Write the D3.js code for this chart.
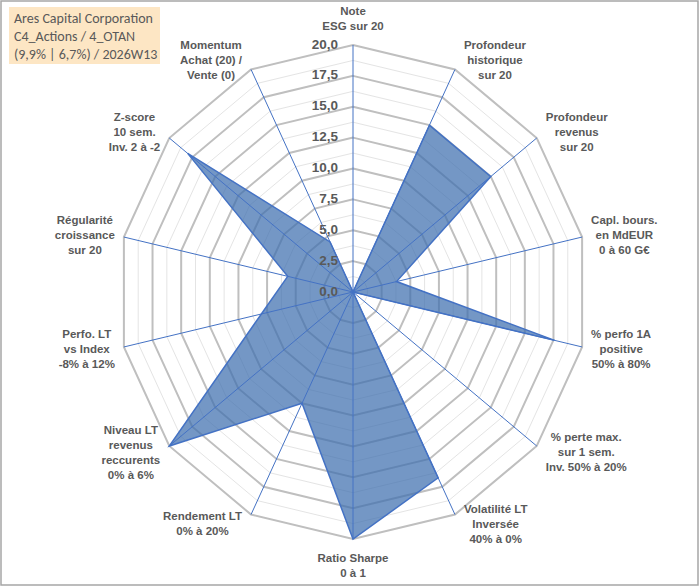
<!DOCTYPE html>
<html>
<head>
<meta charset="utf-8">
<script src="https://cdn.jsdelivr.net/npm/d3@7"></script>
<style>
  html, body { margin: 0; padding: 0; background: #ffffff; }
  svg { display: block; }
</style>
</head>
<body>
<svg id="chart" width="700" height="587"></svg>
<script>
// ---- Data ----
const titleLines = ["Ares Capital Corporation", "C4_Actions / 4_OTAN", "(9,9% | 6,7%) / 2026W13"];
const categories = [
  "Note\nESG sur 20",
  "Profondeur\nhistorique\nsur 20",
  "Profondeur\nrevenus\nsur 20",
  "Capl. bours.\nen MdEUR\n0 à 60 G€",
  "% perfo 1A\npositive\n50% à 80%",
  "% perte max.\nsur 1 sem.\nInv. 50% à 20%",
  "Volatilité LT\nInversée\n40% à 0%",
  "Ratio Sharpe\n0 à 1",
  "Rendement LT\n0% à 20%",
  "Niveau LT\nrevenus\nreccurents\n0% à 6%",
  "Perfo. LT\nvs Index\n-8% à 12%",
  "Régularité\ncroissance\nsur 20",
  "Z-score\n10 sem.\nInv. 2 à -2",
  "Momentum\nAchat (20) /\nVente (0)"
];
const values = [0, 15, 15, 3.8, 17.6, 0, 16.7, 20, 10, 20, 8, 5.7, 18, 4.5];
const tickValues = [0, 2.5, 5, 7.5, 10, 12.5, 15, 17.5, 20];
const minorValues = [1.25, 3.75, 6.25, 8.75, 11.25, 13.75, 16.25, 18.75];

// ---- Layout ----
const W = 700, H = 587;
const cx = 353, cy = 292, rx = 235, ry = 247;
const svg = d3.select("#chart");
const n = categories.length;
const r = d3.scaleLinear().domain([0, 20]).range([0, 1]);
const ang = d3.scaleLinear().domain([0, n]).range([0, 2 * Math.PI]);
const px = (i, v) => cx + rx * r(v) * Math.sin(ang(i));
const py = (i, v) => cy - ry * r(v) * Math.cos(ang(i));
const fmt = v => d3.format(".1f")(v).replace(".", ",");

// outer border
svg.append("rect").attr("x", 1).attr("y", 1).attr("width", W - 3).attr("height", H - 3)
  .attr("fill", "#ffffff").attr("stroke", "#a6a6a6").attr("stroke-width", 1.5);

const ringLine = d3.line().curve(d3.curveLinearClosed);
const ringPts = v => d3.range(n).map(i => [px(i, v), py(i, v)]);

// minor rings
svg.append("g").selectAll("path").data(minorValues).join("path")
  .attr("d", v => ringLine(ringPts(v)))
  .attr("fill", "none").attr("stroke", "#e4e4e4").attr("stroke-width", 1);
// major rings
svg.append("g").selectAll("path").data(tickValues.filter(v => v > 0)).join("path")
  .attr("d", v => ringLine(ringPts(v)))
  .attr("fill", "none").attr("stroke", "#bfbfbf").attr("stroke-width", 2);

// data polygon
svg.append("path")
  .attr("d", ringLine(values.map((v, i) => [px(i, v), py(i, v)])))
  .attr("fill", "#3f6fae").attr("fill-opacity", 0.72)
  .attr("stroke", "#4472c4").attr("stroke-width", 1.5).attr("stroke-linejoin", "miter");

// spokes
svg.append("g").selectAll("line").data(d3.range(n)).join("line")
  .attr("x1", cx).attr("y1", cy)
  .attr("x2", i => px(i, 20)).attr("y2", i => py(i, 20))
  .attr("stroke", "#4472c4").attr("stroke-width", 1);

// tick labels
svg.append("g").selectAll("text").data(tickValues).join("text")
  .attr("x", cx - 15).attr("y", v => py(0, v) - 1)
  .attr("text-anchor", "end").attr("dominant-baseline", "central")
  .attr("font-family", "'Liberation Sans', Arial, sans-serif")
  .attr("font-weight", "bold").attr("font-size", 13.5)
  .attr("fill", "#595959")
  .text(fmt);

// category labels
const lh = 15;
const labG = svg.append("g")
  .attr("font-family", "'Liberation Sans', Arial, sans-serif")
  .attr("font-weight", "bold").attr("font-size", 11.5).attr("fill", "#595959");
categories.forEach((cat, i) => {
  const lines = cat.split("\n");
  const t = labG.append("text").attr("text-anchor", "middle");
  const spans = lines.map(l => t.append("tspan").text(l));
  const maxW = d3.max(spans, s => s.node().getComputedTextLength());
  const a = ang(i), s = Math.sin(a), c = Math.cos(a);
  const ex = px(i, 20), ey = py(i, 20);
  let bx, firstY;
  const nL = lines.length;
  if (Math.abs(s) < 0.05) {
    bx = ex;
    if (c > 0) firstY = ey - 19 - (nL - 1) * lh;
    else firstY = ey + 19;
  } else {
    bx = s > 0 ? ex + 9 + maxW / 2 : ex - 9 - maxW / 2;
    const centerY = ey - c * 10;
    firstY = centerY - (nL - 1) * lh / 2;
  }
  spans.forEach((sp, k) => sp.attr("x", bx).attr("y", firstY + k * lh).attr("dominant-baseline", "central"));
});

// title box
svg.append("rect").attr("x", 9).attr("y", 7).attr("width", 151).attr("height", 57)
  .attr("fill", "#fde6c4");
svg.append("g").selectAll("text").data(titleLines).join("text")
  .attr("x", 14).attr("y", (d, i) => 18 + i * 18)
  .attr("dominant-baseline", "central")
  .attr("font-family", "Carlito, Lato, sans-serif")
  .attr("font-size", 14).attr("fill", "#595959")
  .text(d => d);
</script>
</body>
</html>
